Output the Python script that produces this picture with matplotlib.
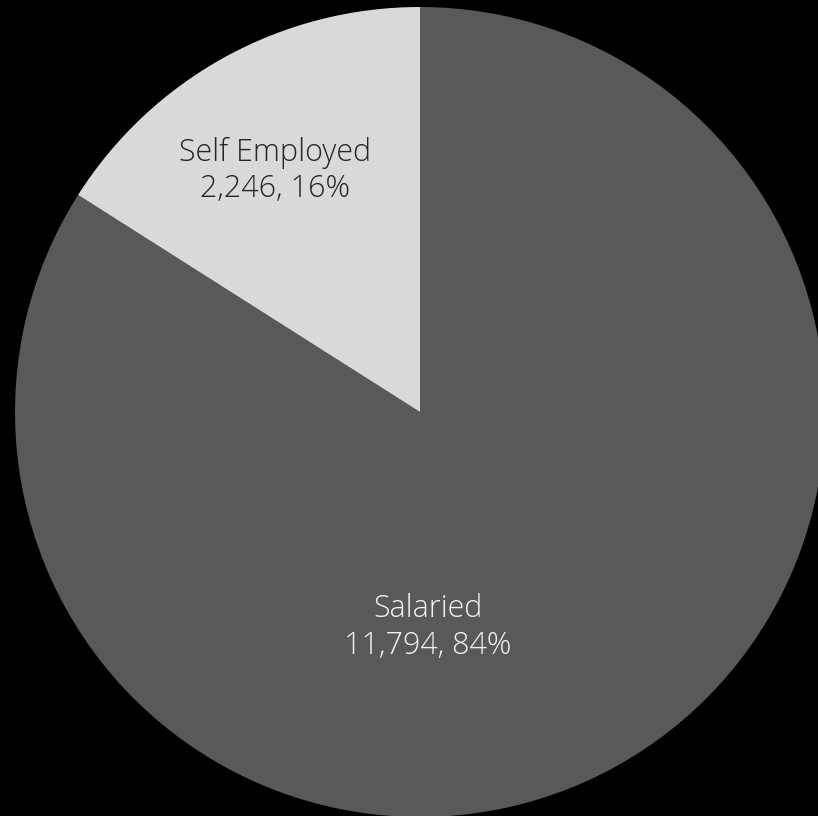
import matplotlib
matplotlib.use("Agg")
import matplotlib.pyplot as plt

# Employment type breakdown
categories = ["Salaried", "Self Employed"]
counts = [11794, 2246]
colors = ["#595959", "#d9d9d9"]
text_colors = ["#f2f2f2", "#262626"]

total = sum(counts)

fig = plt.figure(figsize=(8.18, 8.16), dpi=100, facecolor="black")
ax = fig.add_axes([0, 0, 1, 1])
ax.set_facecolor("black")

ax.pie(counts, colors=colors, startangle=90, counterclock=False,
       radius=1.0, center=(0, 0), wedgeprops={"linewidth": 0})

# label positions (data coords, pie radius = 1)
label_pos = [(0.02, -0.533), (-0.358, 0.595)]
for cat, n, tc, (x, y) in zip(categories, counts, text_colors, label_pos):
    pct = round(100 * n / total)
    ax.text(x, y, f"{cat}\n{n:,}, {pct}%", ha="center", va="center",
            color=tc, fontsize=22, family="Open Sans", fontweight="light",
            linespacing=1.2)

ax.set_xlim(-420 / 405, 398 / 405)
ax.set_ylim(-404 / 405, 412 / 405)
ax.set_aspect("equal")
ax.axis("off")

fig.savefig("out.png", dpi=100, facecolor="black")
